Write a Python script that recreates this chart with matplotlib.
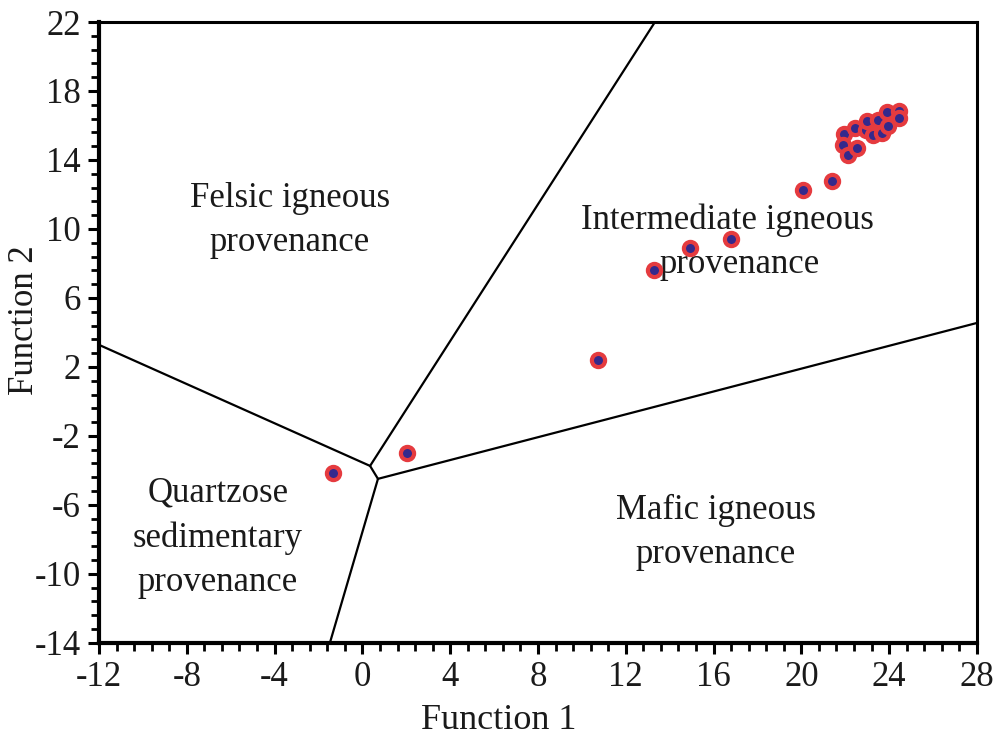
import numpy as np
import matplotlib
matplotlib.use('Agg')
import matplotlib.pyplot as plt

plt.rcParams['font.family'] = ['Liberation Serif', 'DejaVu Serif']
plt.rcParams['axes.unicode_minus'] = False

# sample points (Function 1, Function 2)
f1 = [-1.34, 2.03, 10.73, 13.28, 14.92, 16.79, 20.07, 21.39,
      21.94, 21.88, 22.14, 22.44, 22.55, 22.94, 23.00, 23.25,
      23.50, 23.66, 23.89, 23.96, 24.45, 24.45]
f2 = [-4.14, -2.99, 2.41, 7.62, 8.90, 9.42, 12.26, 12.78,
      15.49, 14.87, 14.29, 15.84, 14.71, 15.74, 16.26, 15.45,
      16.32, 15.55, 16.77, 15.99, 16.86, 16.42]

# field boundaries
junction_a = (0.35, -3.74)
junction_b = (0.71, -4.49)
boundaries = [
    [(13.33, 22.0), junction_a],
    [(-12.0, 3.28), junction_a],
    [junction_a, junction_b],
    [junction_b, (28.0, 4.55)],
    [junction_b, (-1.48, -14.0)],
]

field_labels = [
    ("Felsic igneous\nprovenance", -3.3, 10.5),
    ("Intermediate igneous", 16.61, 10.52),
    ("provenance", 17.2, 7.91),
    ("Quartzose\nsedimentary\nprovenance", -6.58, -7.9),
    ("Mafic igneous\nprovenance", 16.11, -7.6),
]

fig = plt.figure(figsize=(10.02, 7.51), dpi=100)
ax = fig.add_axes([0.0988, 0.144, 0.8762, 0.8267])

for seg in boundaries:
    xs, ys = zip(*seg)
    ax.plot(xs, ys, color='black', lw=1.6, solid_capstyle='round')

for txt, x, y in field_labels:
    ax.text(x, y, txt, ha='center', va='center', fontsize=25,
            linespacing=1.45, color='#1a1a1a')

ax.plot(f1, f2, 'o', ms=9.5, mfc='#34298c', mec='#e53b3f', mew=3,
        linestyle='none', zorder=5)

ax.set_xlim(-12, 28)
ax.set_ylim(-14, 22)
ax.set_xticks(np.arange(-12, 29, 4))
ax.set_xticks(np.arange(-12, 28.01, 0.8), minor=True)
ax.set_yticks(np.arange(-14, 23, 4))
ax.set_yticks(np.arange(-14, 22.01, 0.8), minor=True)

ax.tick_params(which='major', direction='out', length=8, width=2.2,
               labelsize=25, pad=5, labelcolor='#1a1a1a')
ax.tick_params(which='minor', direction='out', length=5.5, width=2.0)
ax.tick_params(top=False, right=False)

ax.spines['left'].set_linewidth(3)
ax.spines['bottom'].set_linewidth(3)
ax.spines['top'].set_linewidth(2.2)
ax.spines['right'].set_linewidth(2.2)

ax.set_xlabel('Function 1', fontsize=26, color='#1a1a1a')
ax.set_ylabel('Function 2', fontsize=25, color='#1a1a1a')
ax.xaxis.set_label_coords(0.455, -0.098)
ax.yaxis.set_label_coords(-0.066, 0.52)

fig.savefig('out.png', dpi=100)
